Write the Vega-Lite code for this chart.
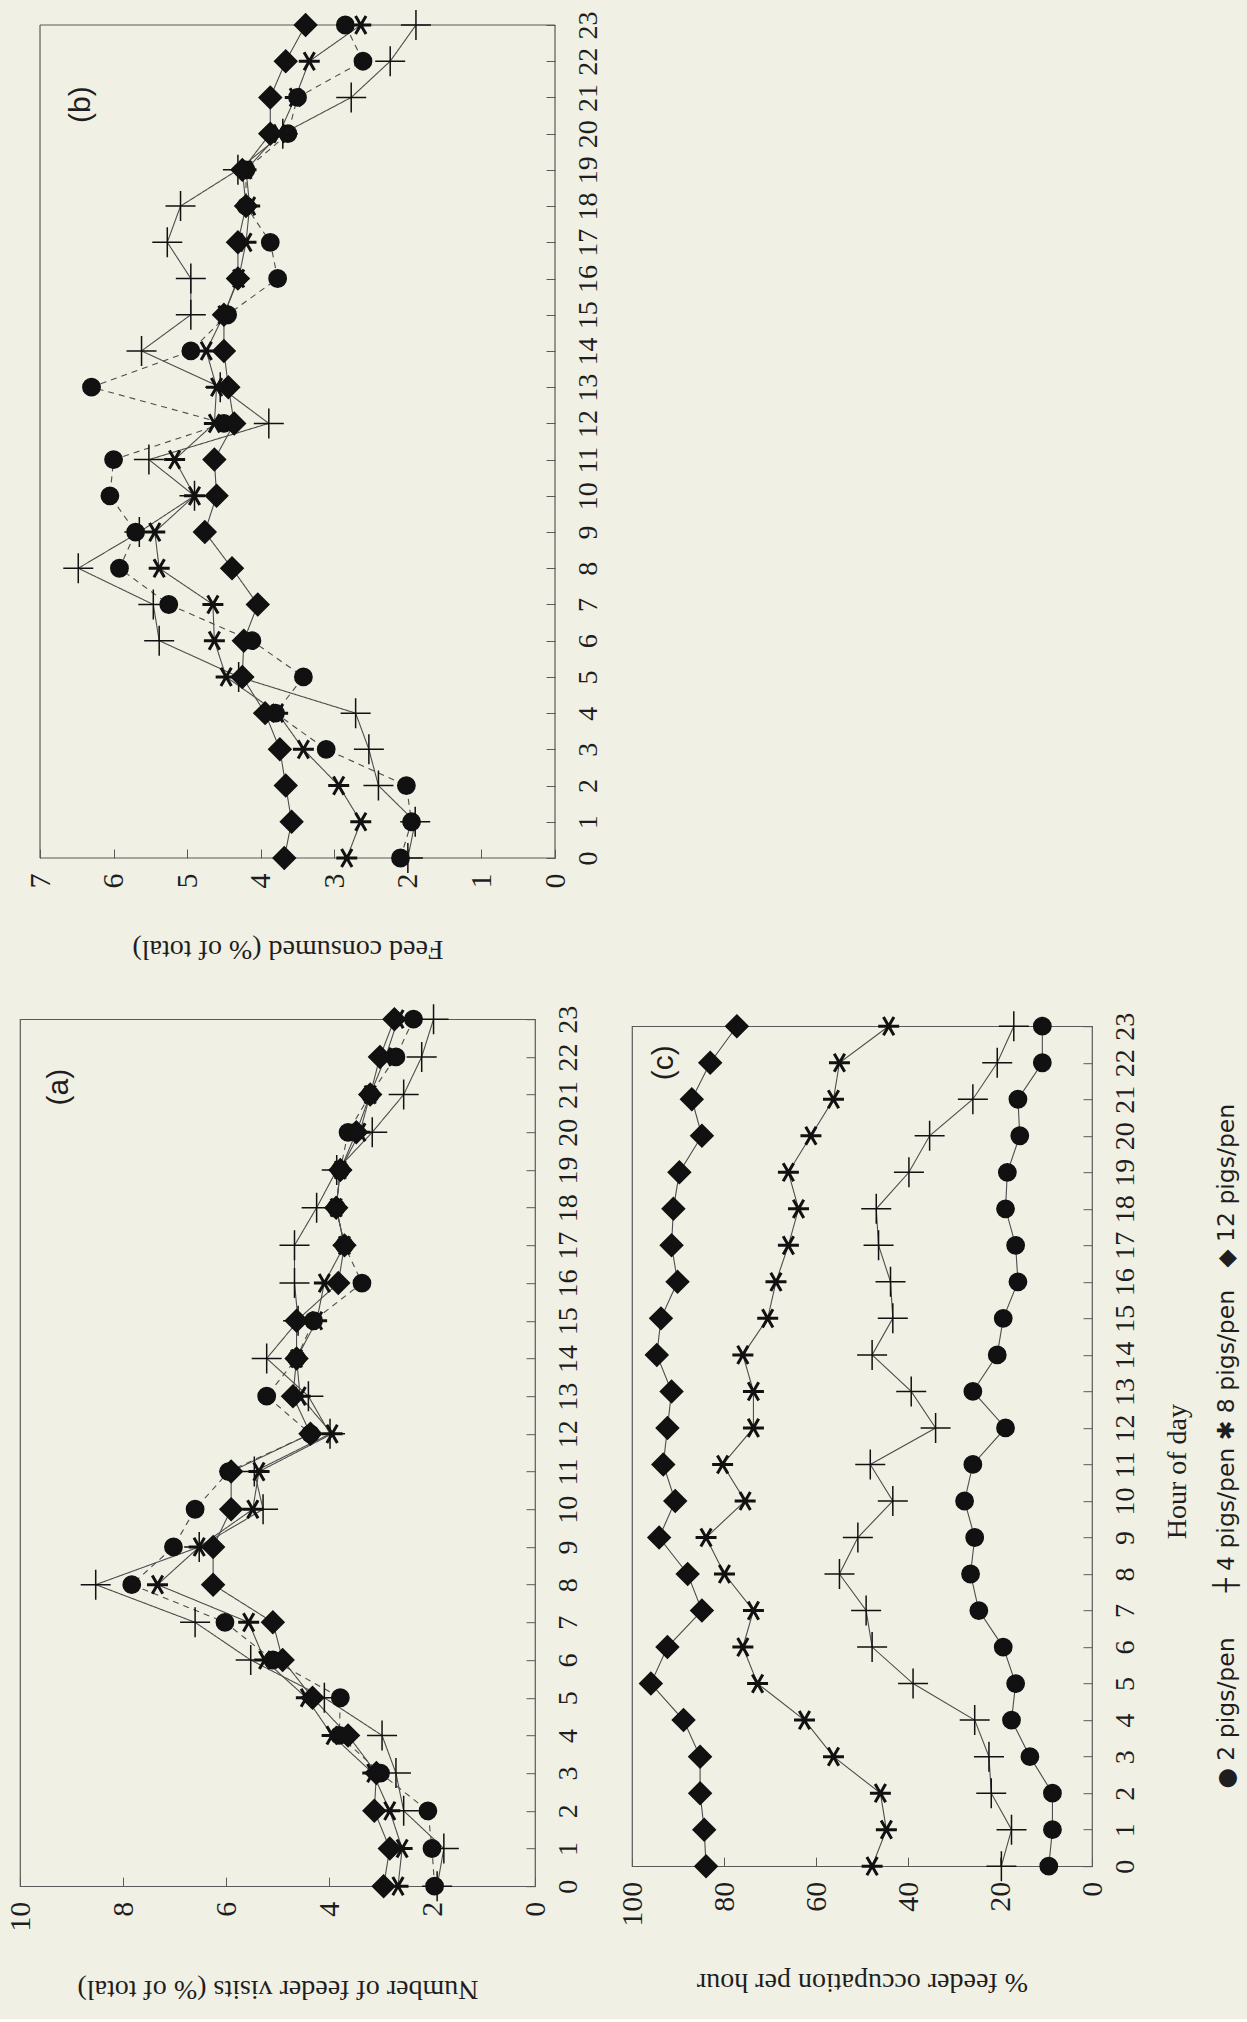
{
"$schema": "https://vega.github.io/schema/vega-lite/v6.json",
"background": "#f1f0e4",
"padding": {"left": 4, "top": 7, "right": 12, "bottom": 16},
"config": {
  "view": {"stroke": "#5a5a5a", "strokeWidth": 1.2},
  "axis": {"grid": false, "domain": false, "labelFont": "Liberation Serif", "titleFont": "Liberation Serif", "labelColor": "#1e1e1e", "titleColor": "#1e1e1e", "tickColor": "#5a5a5a", "tickWidth": 1, "titleFontWeight": "normal", "labelOverlap": false, "labelFlush": false, "minExtent": 0},
  "title": {"font": "Liberation Sans", "fontWeight": "normal", "color": "#1e1e1e"}
},
"datasets": {"d": [
{"p":"b","s":"2 pigs/pen","h":0,"v":2.1},{"p":"b","s":"2 pigs/pen","h":1,"v":1.95},{"p":"b","s":"2 pigs/pen","h":2,"v":2.02},{"p":"b","s":"2 pigs/pen","h":3,"v":3.11},{"p":"b","s":"2 pigs/pen","h":4,"v":3.8},{"p":"b","s":"2 pigs/pen","h":5,"v":3.42},{"p":"b","s":"2 pigs/pen","h":6,"v":4.12},{"p":"b","s":"2 pigs/pen","h":7,"v":5.25},{"p":"b","s":"2 pigs/pen","h":8,"v":5.92},{"p":"b","s":"2 pigs/pen","h":9,"v":5.7},{"p":"b","s":"2 pigs/pen","h":10,"v":6.05},{"p":"b","s":"2 pigs/pen","h":11,"v":6.0},{"p":"b","s":"2 pigs/pen","h":12,"v":4.5},{"p":"b","s":"2 pigs/pen","h":13,"v":6.3},{"p":"b","s":"2 pigs/pen","h":14,"v":4.95},{"p":"b","s":"2 pigs/pen","h":15,"v":4.45},{"p":"b","s":"2 pigs/pen","h":16,"v":3.77},{"p":"b","s":"2 pigs/pen","h":17,"v":3.87},{"p":"b","s":"2 pigs/pen","h":18,"v":4.2},{"p":"b","s":"2 pigs/pen","h":19,"v":4.2},{"p":"b","s":"2 pigs/pen","h":20,"v":3.63},{"p":"b","s":"2 pigs/pen","h":21,"v":3.5},{"p":"b","s":"2 pigs/pen","h":22,"v":2.61},{"p":"b","s":"2 pigs/pen","h":23,"v":2.85},
{"p":"b","s":"4 pigs/pen","h":0,"v":2.0},{"p":"b","s":"4 pigs/pen","h":1,"v":1.9},{"p":"b","s":"4 pigs/pen","h":2,"v":2.4},{"p":"b","s":"4 pigs/pen","h":3,"v":2.53},{"p":"b","s":"4 pigs/pen","h":4,"v":2.71},{"p":"b","s":"4 pigs/pen","h":5,"v":4.3},{"p":"b","s":"4 pigs/pen","h":6,"v":5.38},{"p":"b","s":"4 pigs/pen","h":7,"v":5.46},{"p":"b","s":"4 pigs/pen","h":8,"v":6.48},{"p":"b","s":"4 pigs/pen","h":9,"v":5.65},{"p":"b","s":"4 pigs/pen","h":10,"v":4.9},{"p":"b","s":"4 pigs/pen","h":11,"v":5.52},{"p":"b","s":"4 pigs/pen","h":12,"v":3.89},{"p":"b","s":"4 pigs/pen","h":13,"v":4.55},{"p":"b","s":"4 pigs/pen","h":14,"v":5.62},{"p":"b","s":"4 pigs/pen","h":15,"v":4.95},{"p":"b","s":"4 pigs/pen","h":16,"v":4.95},{"p":"b","s":"4 pigs/pen","h":17,"v":5.27},{"p":"b","s":"4 pigs/pen","h":18,"v":5.09},{"p":"b","s":"4 pigs/pen","h":19,"v":4.31},{"p":"b","s":"4 pigs/pen","h":20,"v":3.7},{"p":"b","s":"4 pigs/pen","h":21,"v":2.77},{"p":"b","s":"4 pigs/pen","h":22,"v":2.24},{"p":"b","s":"4 pigs/pen","h":23,"v":1.89},
{"p":"b","s":"8 pigs/pen","h":0,"v":2.83},{"p":"b","s":"8 pigs/pen","h":1,"v":2.64},{"p":"b","s":"8 pigs/pen","h":2,"v":2.94},{"p":"b","s":"8 pigs/pen","h":3,"v":3.42},{"p":"b","s":"8 pigs/pen","h":4,"v":3.77},{"p":"b","s":"8 pigs/pen","h":5,"v":4.47},{"p":"b","s":"8 pigs/pen","h":6,"v":4.63},{"p":"b","s":"8 pigs/pen","h":7,"v":4.65},{"p":"b","s":"8 pigs/pen","h":8,"v":5.38},{"p":"b","s":"8 pigs/pen","h":9,"v":5.44},{"p":"b","s":"8 pigs/pen","h":10,"v":4.9},{"p":"b","s":"8 pigs/pen","h":11,"v":5.17},{"p":"b","s":"8 pigs/pen","h":12,"v":4.63},{"p":"b","s":"8 pigs/pen","h":13,"v":4.6},{"p":"b","s":"8 pigs/pen","h":14,"v":4.74},{"p":"b","s":"8 pigs/pen","h":15,"v":4.5},{"p":"b","s":"8 pigs/pen","h":16,"v":4.3},{"p":"b","s":"8 pigs/pen","h":17,"v":4.2},{"p":"b","s":"8 pigs/pen","h":18,"v":4.15},{"p":"b","s":"8 pigs/pen","h":19,"v":4.2},{"p":"b","s":"8 pigs/pen","h":20,"v":3.75},{"p":"b","s":"8 pigs/pen","h":21,"v":3.53},{"p":"b","s":"8 pigs/pen","h":22,"v":3.34},{"p":"b","s":"8 pigs/pen","h":23,"v":2.64},
{"p":"b","s":"12 pigs/pen","h":0,"v":3.68},{"p":"b","s":"12 pigs/pen","h":1,"v":3.58},{"p":"b","s":"12 pigs/pen","h":2,"v":3.66},{"p":"b","s":"12 pigs/pen","h":3,"v":3.74},{"p":"b","s":"12 pigs/pen","h":4,"v":3.94},{"p":"b","s":"12 pigs/pen","h":5,"v":4.25},{"p":"b","s":"12 pigs/pen","h":6,"v":4.23},{"p":"b","s":"12 pigs/pen","h":7,"v":4.04},{"p":"b","s":"12 pigs/pen","h":8,"v":4.39},{"p":"b","s":"12 pigs/pen","h":9,"v":4.76},{"p":"b","s":"12 pigs/pen","h":10,"v":4.6},{"p":"b","s":"12 pigs/pen","h":11,"v":4.63},{"p":"b","s":"12 pigs/pen","h":12,"v":4.36},{"p":"b","s":"12 pigs/pen","h":13,"v":4.44},{"p":"b","s":"12 pigs/pen","h":14,"v":4.5},{"p":"b","s":"12 pigs/pen","h":15,"v":4.5},{"p":"b","s":"12 pigs/pen","h":16,"v":4.31},{"p":"b","s":"12 pigs/pen","h":17,"v":4.31},{"p":"b","s":"12 pigs/pen","h":18,"v":4.2},{"p":"b","s":"12 pigs/pen","h":19,"v":4.25},{"p":"b","s":"12 pigs/pen","h":20,"v":3.87},{"p":"b","s":"12 pigs/pen","h":21,"v":3.87},{"p":"b","s":"12 pigs/pen","h":22,"v":3.66},{"p":"b","s":"12 pigs/pen","h":23,"v":3.39},
{"p":"a","s":"2 pigs/pen","h":0,"v":1.95},{"p":"a","s":"2 pigs/pen","h":1,"v":2.0},{"p":"a","s":"2 pigs/pen","h":2,"v":2.08},{"p":"a","s":"2 pigs/pen","h":3,"v":3.0},{"p":"a","s":"2 pigs/pen","h":4,"v":3.8},{"p":"a","s":"2 pigs/pen","h":5,"v":3.78},{"p":"a","s":"2 pigs/pen","h":6,"v":5.09},{"p":"a","s":"2 pigs/pen","h":7,"v":6.02},{"p":"a","s":"2 pigs/pen","h":8,"v":7.83},{"p":"a","s":"2 pigs/pen","h":9,"v":7.02},{"p":"a","s":"2 pigs/pen","h":10,"v":6.6},{"p":"a","s":"2 pigs/pen","h":11,"v":5.95},{"p":"a","s":"2 pigs/pen","h":12,"v":4.36},{"p":"a","s":"2 pigs/pen","h":13,"v":5.21},{"p":"a","s":"2 pigs/pen","h":14,"v":4.63},{"p":"a","s":"2 pigs/pen","h":15,"v":4.3},{"p":"a","s":"2 pigs/pen","h":16,"v":3.36},{"p":"a","s":"2 pigs/pen","h":17,"v":3.7},{"p":"a","s":"2 pigs/pen","h":18,"v":3.86},{"p":"a","s":"2 pigs/pen","h":19,"v":3.78},{"p":"a","s":"2 pigs/pen","h":20,"v":3.63},{"p":"a","s":"2 pigs/pen","h":21,"v":3.2},{"p":"a","s":"2 pigs/pen","h":22,"v":2.7},{"p":"a","s":"2 pigs/pen","h":23,"v":2.36},
{"p":"a","s":"4 pigs/pen","h":0,"v":1.9},{"p":"a","s":"4 pigs/pen","h":1,"v":1.77},{"p":"a","s":"4 pigs/pen","h":2,"v":2.55},{"p":"a","s":"4 pigs/pen","h":3,"v":2.7},{"p":"a","s":"4 pigs/pen","h":4,"v":2.97},{"p":"a","s":"4 pigs/pen","h":5,"v":4.09},{"p":"a","s":"4 pigs/pen","h":6,"v":5.52},{"p":"a","s":"4 pigs/pen","h":7,"v":6.6},{"p":"a","s":"4 pigs/pen","h":8,"v":8.53},{"p":"a","s":"4 pigs/pen","h":9,"v":6.52},{"p":"a","s":"4 pigs/pen","h":10,"v":5.28},{"p":"a","s":"4 pigs/pen","h":11,"v":5.45},{"p":"a","s":"4 pigs/pen","h":12,"v":3.98},{"p":"a","s":"4 pigs/pen","h":13,"v":4.4},{"p":"a","s":"4 pigs/pen","h":14,"v":5.21},{"p":"a","s":"4 pigs/pen","h":15,"v":4.6},{"p":"a","s":"4 pigs/pen","h":16,"v":4.67},{"p":"a","s":"4 pigs/pen","h":17,"v":4.67},{"p":"a","s":"4 pigs/pen","h":18,"v":4.24},{"p":"a","s":"4 pigs/pen","h":19,"v":3.85},{"p":"a","s":"4 pigs/pen","h":20,"v":3.16},{"p":"a","s":"4 pigs/pen","h":21,"v":2.55},{"p":"a","s":"4 pigs/pen","h":22,"v":2.2},{"p":"a","s":"4 pigs/pen","h":23,"v":1.97},
{"p":"a","s":"8 pigs/pen","h":0,"v":2.66},{"p":"a","s":"8 pigs/pen","h":1,"v":2.58},{"p":"a","s":"8 pigs/pen","h":2,"v":2.82},{"p":"a","s":"8 pigs/pen","h":3,"v":3.15},{"p":"a","s":"8 pigs/pen","h":4,"v":3.94},{"p":"a","s":"8 pigs/pen","h":5,"v":4.44},{"p":"a","s":"8 pigs/pen","h":6,"v":5.25},{"p":"a","s":"8 pigs/pen","h":7,"v":5.56},{"p":"a","s":"8 pigs/pen","h":8,"v":7.33},{"p":"a","s":"8 pigs/pen","h":9,"v":6.52},{"p":"a","s":"8 pigs/pen","h":10,"v":5.48},{"p":"a","s":"8 pigs/pen","h":11,"v":5.36},{"p":"a","s":"8 pigs/pen","h":12,"v":3.94},{"p":"a","s":"8 pigs/pen","h":13,"v":4.56},{"p":"a","s":"8 pigs/pen","h":14,"v":4.63},{"p":"a","s":"8 pigs/pen","h":15,"v":4.24},{"p":"a","s":"8 pigs/pen","h":16,"v":4.09},{"p":"a","s":"8 pigs/pen","h":17,"v":3.7},{"p":"a","s":"8 pigs/pen","h":18,"v":3.86},{"p":"a","s":"8 pigs/pen","h":19,"v":3.78},{"p":"a","s":"8 pigs/pen","h":20,"v":3.4},{"p":"a","s":"8 pigs/pen","h":21,"v":3.2},{"p":"a","s":"8 pigs/pen","h":22,"v":2.9},{"p":"a","s":"8 pigs/pen","h":23,"v":2.66},
{"p":"a","s":"12 pigs/pen","h":0,"v":2.94},{"p":"a","s":"12 pigs/pen","h":1,"v":2.82},{"p":"a","s":"12 pigs/pen","h":2,"v":3.12},{"p":"a","s":"12 pigs/pen","h":3,"v":3.08},{"p":"a","s":"12 pigs/pen","h":4,"v":3.63},{"p":"a","s":"12 pigs/pen","h":5,"v":4.32},{"p":"a","s":"12 pigs/pen","h":6,"v":4.9},{"p":"a","s":"12 pigs/pen","h":7,"v":5.09},{"p":"a","s":"12 pigs/pen","h":8,"v":6.25},{"p":"a","s":"12 pigs/pen","h":9,"v":6.25},{"p":"a","s":"12 pigs/pen","h":10,"v":5.9},{"p":"a","s":"12 pigs/pen","h":11,"v":5.9},{"p":"a","s":"12 pigs/pen","h":12,"v":4.36},{"p":"a","s":"12 pigs/pen","h":13,"v":4.7},{"p":"a","s":"12 pigs/pen","h":14,"v":4.63},{"p":"a","s":"12 pigs/pen","h":15,"v":4.63},{"p":"a","s":"12 pigs/pen","h":16,"v":3.82},{"p":"a","s":"12 pigs/pen","h":17,"v":3.7},{"p":"a","s":"12 pigs/pen","h":18,"v":3.86},{"p":"a","s":"12 pigs/pen","h":19,"v":3.78},{"p":"a","s":"12 pigs/pen","h":20,"v":3.47},{"p":"a","s":"12 pigs/pen","h":21,"v":3.2},{"p":"a","s":"12 pigs/pen","h":22,"v":3.01},{"p":"a","s":"12 pigs/pen","h":23,"v":2.73},
{"p":"c","s":"2 pigs/pen","h":0,"v":9.4},{"p":"c","s":"2 pigs/pen","h":1,"v":8.6},{"p":"c","s":"2 pigs/pen","h":2,"v":8.6},{"p":"c","s":"2 pigs/pen","h":3,"v":13.5},{"p":"c","s":"2 pigs/pen","h":4,"v":17.5},{"p":"c","s":"2 pigs/pen","h":5,"v":16.6},{"p":"c","s":"2 pigs/pen","h":6,"v":19.3},{"p":"c","s":"2 pigs/pen","h":7,"v":24.6},{"p":"c","s":"2 pigs/pen","h":8,"v":26.4},{"p":"c","s":"2 pigs/pen","h":9,"v":25.5},{"p":"c","s":"2 pigs/pen","h":10,"v":27.7},{"p":"c","s":"2 pigs/pen","h":11,"v":25.9},{"p":"c","s":"2 pigs/pen","h":12,"v":18.8},{"p":"c","s":"2 pigs/pen","h":13,"v":25.9},{"p":"c","s":"2 pigs/pen","h":14,"v":20.6},{"p":"c","s":"2 pigs/pen","h":15,"v":19.3},{"p":"c","s":"2 pigs/pen","h":16,"v":16.1},{"p":"c","s":"2 pigs/pen","h":17,"v":16.6},{"p":"c","s":"2 pigs/pen","h":18,"v":18.8},{"p":"c","s":"2 pigs/pen","h":19,"v":18.4},{"p":"c","s":"2 pigs/pen","h":20,"v":15.7},{"p":"c","s":"2 pigs/pen","h":21,"v":16.1},{"p":"c","s":"2 pigs/pen","h":22,"v":10.8},{"p":"c","s":"2 pigs/pen","h":23,"v":10.8},
{"p":"c","s":"4 pigs/pen","h":0,"v":19.7},{"p":"c","s":"4 pigs/pen","h":1,"v":17.5},{"p":"c","s":"4 pigs/pen","h":2,"v":21.9},{"p":"c","s":"4 pigs/pen","h":3,"v":22.4},{"p":"c","s":"4 pigs/pen","h":4,"v":25.5},{"p":"c","s":"4 pigs/pen","h":5,"v":38.9},{"p":"c","s":"4 pigs/pen","h":6,"v":47.8},{"p":"c","s":"4 pigs/pen","h":7,"v":49.1},{"p":"c","s":"4 pigs/pen","h":8,"v":54.9},{"p":"c","s":"4 pigs/pen","h":9,"v":50.9},{"p":"c","s":"4 pigs/pen","h":10,"v":43.3},{"p":"c","s":"4 pigs/pen","h":11,"v":48.2},{"p":"c","s":"4 pigs/pen","h":12,"v":34.0},{"p":"c","s":"4 pigs/pen","h":13,"v":39.3},{"p":"c","s":"4 pigs/pen","h":14,"v":47.8},{"p":"c","s":"4 pigs/pen","h":15,"v":43.3},{"p":"c","s":"4 pigs/pen","h":16,"v":43.8},{"p":"c","s":"4 pigs/pen","h":17,"v":46.4},{"p":"c","s":"4 pigs/pen","h":18,"v":46.9},{"p":"c","s":"4 pigs/pen","h":19,"v":39.8},{"p":"c","s":"4 pigs/pen","h":20,"v":35.3},{"p":"c","s":"4 pigs/pen","h":21,"v":25.9},{"p":"c","s":"4 pigs/pen","h":22,"v":20.6},{"p":"c","s":"4 pigs/pen","h":23,"v":17.0},
{"p":"c","s":"8 pigs/pen","h":0,"v":47.8},{"p":"c","s":"8 pigs/pen","h":1,"v":44.7},{"p":"c","s":"8 pigs/pen","h":2,"v":46.0},{"p":"c","s":"8 pigs/pen","h":3,"v":56.2},{"p":"c","s":"8 pigs/pen","h":4,"v":62.5},{"p":"c","s":"8 pigs/pen","h":5,"v":72.7},{"p":"c","s":"8 pigs/pen","h":6,"v":75.9},{"p":"c","s":"8 pigs/pen","h":7,"v":73.6},{"p":"c","s":"8 pigs/pen","h":8,"v":79.9},{"p":"c","s":"8 pigs/pen","h":9,"v":83.9},{"p":"c","s":"8 pigs/pen","h":10,"v":75.4},{"p":"c","s":"8 pigs/pen","h":11,"v":80.3},{"p":"c","s":"8 pigs/pen","h":12,"v":73.6},{"p":"c","s":"8 pigs/pen","h":13,"v":73.6},{"p":"c","s":"8 pigs/pen","h":14,"v":75.9},{"p":"c","s":"8 pigs/pen","h":15,"v":70.5},{"p":"c","s":"8 pigs/pen","h":16,"v":68.7},{"p":"c","s":"8 pigs/pen","h":17,"v":66.0},{"p":"c","s":"8 pigs/pen","h":18,"v":63.8},{"p":"c","s":"8 pigs/pen","h":19,"v":66.0},{"p":"c","s":"8 pigs/pen","h":20,"v":61.1},{"p":"c","s":"8 pigs/pen","h":21,"v":56.2},{"p":"c","s":"8 pigs/pen","h":22,"v":54.9},{"p":"c","s":"8 pigs/pen","h":23,"v":44.2},
{"p":"c","s":"12 pigs/pen","h":0,"v":83.9},{"p":"c","s":"12 pigs/pen","h":1,"v":84.3},{"p":"c","s":"12 pigs/pen","h":2,"v":85.2},{"p":"c","s":"12 pigs/pen","h":3,"v":85.2},{"p":"c","s":"12 pigs/pen","h":4,"v":88.8},{"p":"c","s":"12 pigs/pen","h":5,"v":95.9},{"p":"c","s":"12 pigs/pen","h":6,"v":92.3},{"p":"c","s":"12 pigs/pen","h":7,"v":84.8},{"p":"c","s":"12 pigs/pen","h":8,"v":87.9},{"p":"c","s":"12 pigs/pen","h":9,"v":94.1},{"p":"c","s":"12 pigs/pen","h":10,"v":90.6},{"p":"c","s":"12 pigs/pen","h":11,"v":93.2},{"p":"c","s":"12 pigs/pen","h":12,"v":92.3},{"p":"c","s":"12 pigs/pen","h":13,"v":91.4},{"p":"c","s":"12 pigs/pen","h":14,"v":94.6},{"p":"c","s":"12 pigs/pen","h":15,"v":93.7},{"p":"c","s":"12 pigs/pen","h":16,"v":90.1},{"p":"c","s":"12 pigs/pen","h":17,"v":91.4},{"p":"c","s":"12 pigs/pen","h":18,"v":91.0},{"p":"c","s":"12 pigs/pen","h":19,"v":89.7},{"p":"c","s":"12 pigs/pen","h":20,"v":84.8},{"p":"c","s":"12 pigs/pen","h":21,"v":87.0},{"p":"c","s":"12 pigs/pen","h":22,"v":83.0},{"p":"c","s":"12 pigs/pen","h":23,"v":77.2}
]},
"spacing": 38,
"vconcat": [
{
  "width": 535, "height": 833,
  "view": {"stroke": null},
  "data": {"name": "d"},
  "resolve": {"axis": {"x": "independent", "y": "independent"}},
  "layer": [
    {"data": {"values": [{}]}, "mark": {"type": "rule", "stroke": "#5a5a5a", "strokeWidth": 1.2},
     "encoding": {"x": {"datum": 7, "type": "quantitative", "scale": {"domain": [0, 7.272], "reverse": true, "nice": false, "zero": false}, "axis": null},
                  "y": {"datum": 0, "type": "quantitative", "scale": {"domain": [0, 23], "nice": false, "zero": false}, "axis": null}, "y2": {"datum": 23}}},
    {"data": {"values": [{}]}, "mark": {"type": "rule", "stroke": "#5a5a5a", "strokeWidth": 1.2},
     "encoding": {"x": {"datum": 0, "type": "quantitative", "scale": {"domain": [0, 7.272], "reverse": true, "nice": false, "zero": false}, "axis": null},
                  "y": {"datum": 0, "type": "quantitative", "scale": {"domain": [0, 23], "nice": false, "zero": false}, "axis": null}, "y2": {"datum": 23}}},
    {"data": {"values": [{}]}, "mark": {"type": "rule", "stroke": "#5a5a5a", "strokeWidth": 1.2},
     "encoding": {"y": {"datum": 0, "type": "quantitative", "scale": {"domain": [0, 23], "nice": false, "zero": false}, "axis": null},
                  "x": {"datum": 0, "type": "quantitative", "scale": {"domain": [0, 7.272], "reverse": true, "nice": false, "zero": false}, "axis": null}, "x2": {"datum": 7}}},
    {"data": {"values": [{}]}, "mark": {"type": "rule", "stroke": "#5a5a5a", "strokeWidth": 1.2},
     "encoding": {"y": {"datum": 23, "type": "quantitative", "scale": {"domain": [0, 23], "nice": false, "zero": false}, "axis": null},
                  "x": {"datum": 0, "type": "quantitative", "scale": {"domain": [0, 7.272], "reverse": true, "nice": false, "zero": false}, "axis": null}, "x2": {"datum": 7}}},
    {"transform": [{"filter": "datum.p == 'b'"}],
     "mark": {"type": "line", "stroke": "#4d4d4d", "strokeWidth": 1.1},
     "encoding": {
       "x": {"field": "v", "type": "quantitative", "scale": {"domain": [0, 7.272], "reverse": true, "nice": false, "zero": false},
             "axis": {"orient": "bottom", "values": [0,1,2,3,4,5,6,7], "labelAngle": -90, "labelAlign": "right", "labelBaseline": "middle", "labelFont": "Liberation Serif", "labelFontSize": 30, "tickSize": -9, "labelPadding": 24, "title": "Feed consumed (% of total)", "titleFont": "Liberation Serif", "titleAngle": 180, "titleBaseline": "bottom", "titleFontSize": 28, "titlePadding": 46}},
       "y": {"field": "h", "type": "quantitative", "scale": {"domain": [0, 23], "nice": false, "zero": false},
             "axis": {"orient": "right", "values": [0,1,2,3,4,5,6,7,8,9,10,11,12,13,14,15,16,17,18,19,20,21,22,23], "labelAngle": -90, "labelAlign": "center", "labelBaseline": "top", "labelFont": "Liberation Serif", "labelFontSize": 28, "tickSize": -9, "labelPadding": 28, "title": null}},
       "order": {"field": "h"},
       "detail": {"field": "s"},
       "strokeDash": {"field": "s", "type": "nominal", "scale": {"domain": ["2 pigs/pen", "4 pigs/pen", "8 pigs/pen", "12 pigs/pen"], "range": [[6, 5], [1, 0], [1, 0], [1, 0]]}, "legend": null}
     }},
    {"transform": [{"filter": "datum.p == 'b' && datum.s != '8 pigs/pen'"}],
     "mark": {"type": "point", "filled": true, "fill": "#111111", "stroke": "#111111", "strokeWidth": 1.5, "opacity": 1},
     "encoding": {
       "x": {"field": "v", "type": "quantitative", "scale": {"domain": [0, 7.272], "reverse": true, "nice": false, "zero": false}, "axis": null},
       "y": {"field": "h", "type": "quantitative", "scale": {"domain": [0, 23], "nice": false, "zero": false}, "axis": null},
       "shape": {"field": "s", "type": "nominal", "scale": {"domain": ["2 pigs/pen", "4 pigs/pen", "8 pigs/pen", "12 pigs/pen"], "range": ["circle", "M-1,0H1M0,-1V1", "M-1,0L1,0M-0.5,-0.866L0.5,0.866M-0.5,0.866L0.5,-0.866", "diamond"]}, "legend": null},
       "size": {"field": "s", "type": "ordinal", "scale": {"type": "ordinal", "domain": ["2 pigs/pen", "4 pigs/pen", "8 pigs/pen", "12 pigs/pen"], "range": [300, 900, 440, 500]}, "legend": null}
     }},
    {"transform": [{"filter": "datum.p == 'b' && datum.s == '8 pigs/pen'"}],
     "mark": {"type": "point", "filled": true, "fill": "#111111", "stroke": "#111111", "strokeWidth": 3, "opacity": 1},
     "encoding": {
       "x": {"field": "v", "type": "quantitative", "scale": {"domain": [0, 7.272], "reverse": true, "nice": false, "zero": false}, "axis": null},
       "y": {"field": "h", "type": "quantitative", "scale": {"domain": [0, 23], "nice": false, "zero": false}, "axis": null},
       "shape": {"field": "s", "type": "nominal", "scale": {"domain": ["2 pigs/pen", "4 pigs/pen", "8 pigs/pen", "12 pigs/pen"], "range": ["circle", "M-1,0H1M0,-1V1", "M-1,0L1,0M-0.5,-0.866L0.5,0.866M-0.5,0.866L0.5,-0.866", "diamond"]}, "legend": null},
       "size": {"field": "s", "type": "ordinal", "scale": {"type": "ordinal", "domain": ["2 pigs/pen", "4 pigs/pen", "8 pigs/pen", "12 pigs/pen"], "range": [300, 900, 440, 500]}, "legend": null}
     }},
    {"data": {"values": [{}]},
     "mark": {"type": "text", "text": "(b)", "angle": 270, "font": "Liberation Sans", "fontSize": 30, "fill": "#1e1e1e", "align": "center", "baseline": "middle"},
     "encoding": {
       "x": {"datum": 6.44, "type": "quantitative", "scale": {"domain": [0, 7.272], "reverse": true, "nice": false, "zero": false}, "axis": null},
       "y": {"datum": 20.8, "type": "quantitative", "scale": {"domain": [0, 23], "nice": false, "zero": false}, "axis": null}
     }}
  ]
},
{
  "spacing": 33,
  "center": true,
  "hconcat": [
  {
    "width": 515, "height": 867,
    "data": {"name": "d"},
    "resolve": {"axis": {"x": "independent", "y": "independent"}},
    "layer": [
      {"transform": [{"filter": "datum.p == 'a'"}],
       "mark": {"type": "line", "stroke": "#4d4d4d", "strokeWidth": 1.1},
       "encoding": {
         "x": {"field": "v", "type": "quantitative", "scale": {"domain": [0, 10], "reverse": true, "nice": false, "zero": false},
               "axis": {"orient": "bottom", "values": [0,2,4,6,8,10], "labelAngle": -90, "labelAlign": "right", "labelBaseline": "middle", "labelFont": "Liberation Serif", "labelFontSize": 30, "tickSize": -9, "labelPadding": 24, "title": "Number of feeder visits (% of total)", "titleFont": "Liberation Serif", "titleAngle": 180, "titleBaseline": "bottom", "titleFontSize": 28, "titlePadding": 43}},
         "y": {"field": "h", "type": "quantitative", "scale": {"domain": [0, 23], "nice": false, "zero": false},
               "axis": {"orient": "right", "values": [0,1,2,3,4,5,6,7,8,9,10,11,12,13,14,15,16,17,18,19,20,21,22,23], "labelAngle": -90, "labelAlign": "center", "labelBaseline": "top", "labelFont": "Liberation Serif", "labelFontSize": 28, "tickSize": -9, "labelPadding": 28, "title": null}},
         "order": {"field": "h"},
         "detail": {"field": "s"},
         "strokeDash": {"field": "s", "type": "nominal", "scale": {"domain": ["2 pigs/pen", "4 pigs/pen", "8 pigs/pen", "12 pigs/pen"], "range": [[6, 5], [1, 0], [1, 0], [1, 0]]}, "legend": null}
       }},
      {"transform": [{"filter": "datum.p == 'a' && datum.s != '8 pigs/pen'"}],
       "mark": {"type": "point", "filled": true, "fill": "#111111", "stroke": "#111111", "strokeWidth": 1.5, "opacity": 1},
       "encoding": {
         "x": {"field": "v", "type": "quantitative", "scale": {"domain": [0, 10], "reverse": true, "nice": false, "zero": false}, "axis": null},
         "y": {"field": "h", "type": "quantitative", "scale": {"domain": [0, 23], "nice": false, "zero": false}, "axis": null},
         "shape": {"field": "s", "type": "nominal", "scale": {"domain": ["2 pigs/pen", "4 pigs/pen", "8 pigs/pen", "12 pigs/pen"], "range": ["circle", "M-1,0H1M0,-1V1", "M-1,0L1,0M-0.5,-0.866L0.5,0.866M-0.5,0.866L0.5,-0.866", "diamond"]}, "legend": null},
         "size": {"field": "s", "type": "ordinal", "scale": {"type": "ordinal", "domain": ["2 pigs/pen", "4 pigs/pen", "8 pigs/pen", "12 pigs/pen"], "range": [300, 900, 440, 500]}, "legend": null}
       }},
      {"transform": [{"filter": "datum.p == 'a' && datum.s == '8 pigs/pen'"}],
       "mark": {"type": "point", "filled": true, "fill": "#111111", "stroke": "#111111", "strokeWidth": 3, "opacity": 1},
       "encoding": {
         "x": {"field": "v", "type": "quantitative", "scale": {"domain": [0, 10], "reverse": true, "nice": false, "zero": false}, "axis": null},
         "y": {"field": "h", "type": "quantitative", "scale": {"domain": [0, 23], "nice": false, "zero": false}, "axis": null},
         "shape": {"field": "s", "type": "nominal", "scale": {"domain": ["2 pigs/pen", "4 pigs/pen", "8 pigs/pen", "12 pigs/pen"], "range": ["circle", "M-1,0H1M0,-1V1", "M-1,0L1,0M-0.5,-0.866L0.5,0.866M-0.5,0.866L0.5,-0.866", "diamond"]}, "legend": null},
         "size": {"field": "s", "type": "ordinal", "scale": {"type": "ordinal", "domain": ["2 pigs/pen", "4 pigs/pen", "8 pigs/pen", "12 pigs/pen"], "range": [300, 900, 440, 500]}, "legend": null}
       }},
      {"data": {"values": [{}]},
       "mark": {"type": "text", "text": "(a)", "angle": 270, "font": "Liberation Sans", "fontSize": 30, "fill": "#1e1e1e", "align": "center", "baseline": "middle"},
       "encoding": {
         "x": {"datum": 9.24, "type": "quantitative", "scale": {"domain": [0, 10], "reverse": true, "nice": false, "zero": false}, "axis": null},
         "y": {"datum": 21.2, "type": "quantitative", "scale": {"domain": [0, 23], "nice": false, "zero": false}, "axis": null}
       }}
    ]
  },
  {
    "width": 460, "height": 840,
    "data": {"name": "d"},
    "resolve": {"axis": {"x": "independent", "y": "independent"}},
    "title": {"text": "● 2 pigs/pen\u00a0\u00a0\u00a0\u00a0\u00a0\u00a0┼ 4 pigs/pen ✱ 8 pigs/pen\u00a0\u00a0\u00a0◆ 12 pigs/pen", "orient": "right", "angle": -90, "anchor": "middle", "baseline": "top", "font": "DejaVu Sans", "fontSize": 23.5, "fontWeight": "normal", "color": "#1e1e1e", "offset": 0},
    "layer": [
      {"transform": [{"filter": "datum.p == 'c'"}],
       "mark": {"type": "line", "stroke": "#4d4d4d", "strokeWidth": 1.1},
       "encoding": {
         "x": {"field": "v", "type": "quantitative", "scale": {"domain": [0, 100], "reverse": true, "nice": false, "zero": false},
               "axis": {"orient": "bottom", "values": [0,20,40,60,80,100], "labelAngle": -90, "labelAlign": "right", "labelBaseline": "middle", "labelFont": "Liberation Serif", "labelFontSize": 30, "tickSize": -9, "labelPadding": 24, "title": "% feeder occupation per hour", "titleFont": "Liberation Serif", "titleAngle": 180, "titleBaseline": "bottom", "titleFontSize": 28, "titlePadding": 41}},
         "y": {"field": "h", "type": "quantitative", "scale": {"domain": [0, 23], "nice": false, "zero": false},
               "axis": {"orient": "right", "values": [0,1,2,3,4,5,6,7,8,9,10,11,12,13,14,15,16,17,18,19,20,21,22,23], "labelAngle": -90, "labelAlign": "center", "labelBaseline": "top", "labelFont": "Liberation Serif", "labelFontSize": 28, "tickSize": -9, "labelPadding": 28, "title": "Hour of day", "titleFont": "Liberation Serif", "titleAngle": -90, "titleAlign": "center", "titleBaseline": "top", "titleFontSize": 28, "titlePadding": 24, "titleY": 445}},
         "order": {"field": "h"},
         "detail": {"field": "s"}
       }},
      {"transform": [{"filter": "datum.p == 'c' && datum.s != '8 pigs/pen'"}],
       "mark": {"type": "point", "filled": true, "fill": "#111111", "stroke": "#111111", "strokeWidth": 1.5, "opacity": 1},
       "encoding": {
         "x": {"field": "v", "type": "quantitative", "scale": {"domain": [0, 100], "reverse": true, "nice": false, "zero": false},
               "axis": {"orient": "top", "labels": false, "ticks": false, "domain": false, "grid": false, "title": " ", "titleFontSize": 15, "titlePadding": 10}},
         "y": {"field": "h", "type": "quantitative", "scale": {"domain": [0, 23], "nice": false, "zero": false}, "axis": null},
         "shape": {"field": "s", "type": "nominal", "scale": {"domain": ["2 pigs/pen", "4 pigs/pen", "8 pigs/pen", "12 pigs/pen"], "range": ["circle", "M-1,0H1M0,-1V1", "M-1,0L1,0M-0.5,-0.866L0.5,0.866M-0.5,0.866L0.5,-0.866", "diamond"]}, "legend": null},
         "size": {"field": "s", "type": "ordinal", "scale": {"type": "ordinal", "domain": ["2 pigs/pen", "4 pigs/pen", "8 pigs/pen", "12 pigs/pen"], "range": [300, 900, 440, 500]}, "legend": null}
       }},
      {"transform": [{"filter": "datum.p == 'c' && datum.s == '8 pigs/pen'"}],
       "mark": {"type": "point", "filled": true, "fill": "#111111", "stroke": "#111111", "strokeWidth": 3, "opacity": 1},
       "encoding": {
         "x": {"field": "v", "type": "quantitative", "scale": {"domain": [0, 100], "reverse": true, "nice": false, "zero": false}, "axis": null},
         "y": {"field": "h", "type": "quantitative", "scale": {"domain": [0, 23], "nice": false, "zero": false}, "axis": null},
         "shape": {"field": "s", "type": "nominal", "scale": {"domain": ["2 pigs/pen", "4 pigs/pen", "8 pigs/pen", "12 pigs/pen"], "range": ["circle", "M-1,0H1M0,-1V1", "M-1,0L1,0M-0.5,-0.866L0.5,0.866M-0.5,0.866L0.5,-0.866", "diamond"]}, "legend": null},
         "size": {"field": "s", "type": "ordinal", "scale": {"type": "ordinal", "domain": ["2 pigs/pen", "4 pigs/pen", "8 pigs/pen", "12 pigs/pen"], "range": [300, 900, 440, 500]}, "legend": null}
       }},
      {"data": {"values": [{}]},
       "mark": {"type": "text", "text": "(c)", "angle": 270, "font": "Liberation Sans", "fontSize": 30, "fill": "#1e1e1e", "align": "center", "baseline": "middle"},
       "encoding": {
         "x": {"datum": 93, "type": "quantitative", "scale": {"domain": [0, 100], "reverse": true, "nice": false, "zero": false}, "axis": null},
         "y": {"datum": 22.0, "type": "quantitative", "scale": {"domain": [0, 23], "nice": false, "zero": false}, "axis": null}
       }}
    ]
  }
  ]
}
]
}
